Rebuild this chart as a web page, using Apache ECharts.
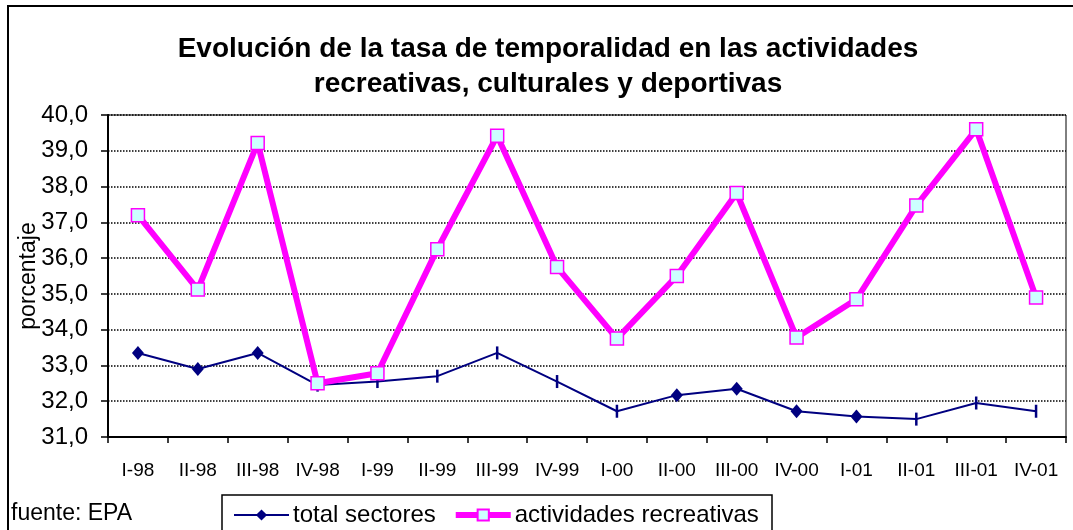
<!DOCTYPE html>
<html>
<head>
<meta charset="utf-8">
<script src="https://cdn.jsdelivr.net/npm/echarts@6/dist/echarts.min.js"></script>
<style>
  html, body { margin: 0; padding: 0; background: #fff; }
  #chart { width: 1073px; height: 530px; }
</style>
</head>
<body>
<div id="chart"></div>
<script>
// Quarterly categories
const quarters = ['I-98', 'II-98', 'III-98', 'IV-98', 'I-99', 'II-99', 'III-99', 'IV-99',
                  'I-00', 'II-00', 'III-00', 'IV-00', 'I-01', 'II-01', 'III-01', 'IV-01'];

// Temporary-employment rate (%), all sectors
const totalSectores = [33.35, 32.9, 33.35, 32.45, 32.55, 32.7, 33.35, 32.55,
                       31.72, 32.17, 32.35, 31.72, 31.57, 31.5, 31.95, 31.72];

// Temporary-employment rate (%), recreational, cultural and sporting activities
const actividadesRecreativas = [37.2, 35.12, 39.22, 32.5, 32.78, 36.25, 39.42, 35.75,
                                33.75, 35.5, 37.82, 33.78, 34.85, 37.47, 39.6, 34.9];

// Y axis range
const yMin = 31, yMax = 40, yStep = 1;

const titleText = 'Evolución de la tasa de temporalidad en las actividades\nrecreativas, culturales y deportivas';
const sourceText = 'fuente: EPA';
const yName = 'porcentaje';

// Marker shape per point on the "total sectores" line: d = diamond, t = short vertical tick
const totalMarks = ['d', 'd', 'd', 't', 't', 't', 't', 't', 't', 'd', 'd', 'd', 'd', 't', 't', 't'];

const FONT = '"Liberation Sans", Arial, sans-serif';
const NAVY = '#000080';
const MAGENTA = '#FF00FF';

const chart = echarts.init(document.getElementById('chart'), null, { renderer: 'canvas' });

chart.setOption({
  backgroundColor: '#fff',
  animation: false,
  title: {
    text: titleText,
    left: 543,
    textAlign: 'center',
    top: 27,
    textStyle: { fontFamily: FONT, fontSize: 28, fontWeight: 'bold', color: '#000', lineHeight: 35 }
  },
  graphic: [
    {
      // outer chart frame (runs off the right and bottom edges)
      type: 'rect',
      shape: { x: 8, y: 6, width: 1200, height: 700 },
      style: { fill: 'none', stroke: '#000', lineWidth: 2 },
      silent: true
    },
    {
      // legend frame (runs off the bottom edge)
      type: 'rect',
      shape: { x: 222, y: 495, width: 550, height: 80 },
      style: { fill: 'none', stroke: '#000', lineWidth: 1.5 },
      silent: true
    },
    {
      type: 'text',
      left: 11,
      top: 502,
      style: { text: sourceText, font: '23px ' + FONT, fill: '#000' }
    }
  ],
  legend: {
    left: 222,
    top: 495,
    padding: [8, 10, 6, 11],
    itemWidth: 55,
    itemHeight: 14,
    itemGap: 17,
    borderWidth: 0,
    textStyle: { fontFamily: FONT, fontSize: 24, color: '#000', padding: [0, 0, 0, -1] },
    data: [
      { name: 'total sectores', lineStyle: { width: 2 } },
      { name: 'actividades recreativas', lineStyle: { width: 6 } }
    ]
  },
  grid: {
    left: 108,
    right: 7,
    top: 115,
    bottom: 93,
    show: true,
    borderColor: '#000',
    borderWidth: 1,
    backgroundColor: '#fff'
  },
  xAxis: {
    type: 'category',
    data: quarters,
    boundaryGap: true,
    axisLine: { lineStyle: { color: '#000', width: 2 } },
    axisTick: { show: true, length: 6, lineStyle: { color: '#000', width: 1.5 } },
    axisLabel: { interval: 0, margin: 24, fontFamily: FONT, fontSize: 19, color: '#000' },
    splitLine: { show: false }
  },
  yAxis: {
    type: 'value',
    min: yMin,
    max: yMax,
    interval: yStep,
    name: yName,
    nameLocation: 'middle',
    nameRotate: 90,
    nameGap: 68,
    nameMoveOverlap: false,
    nameTextStyle: { fontFamily: FONT, fontSize: 23, color: '#000' },
    axisLine: { show: true, lineStyle: { color: '#000', width: 2 } },
    axisTick: { show: true, length: 7, lineStyle: { color: '#000', width: 1.5 } },
    axisLabel: {
      margin: 20,
      fontFamily: FONT,
      fontSize: 24,
      color: '#000',
      formatter: v => v.toFixed(1).replace('.', ',')
    },
    splitLine: { show: true, lineStyle: { color: '#000', width: 1.5, type: [1.5, 1.5] } }
  },
  series: [
    {
      name: 'total sectores',
      type: 'line',
      z: 2,
      symbol: 'diamond',
      symbolSize: [12, 14],
      lineStyle: { color: NAVY, width: 2 },
      itemStyle: { color: NAVY },
      data: totalSectores.map((v, i) => totalMarks[i] === 't'
        ? { value: v, symbol: 'rect', symbolSize: [2.5, 13] }
        : { value: v })
    },
    {
      name: 'actividades recreativas',
      type: 'line',
      z: 3,
      symbol: 'rect',
      symbolSize: 13,
      lineStyle: { color: MAGENTA, width: 6 },
      itemStyle: { color: '#CCFFFF', borderColor: MAGENTA, borderWidth: 1.5 },
      data: actividadesRecreativas
    }
  ]
});
</script>
</body>
</html>
